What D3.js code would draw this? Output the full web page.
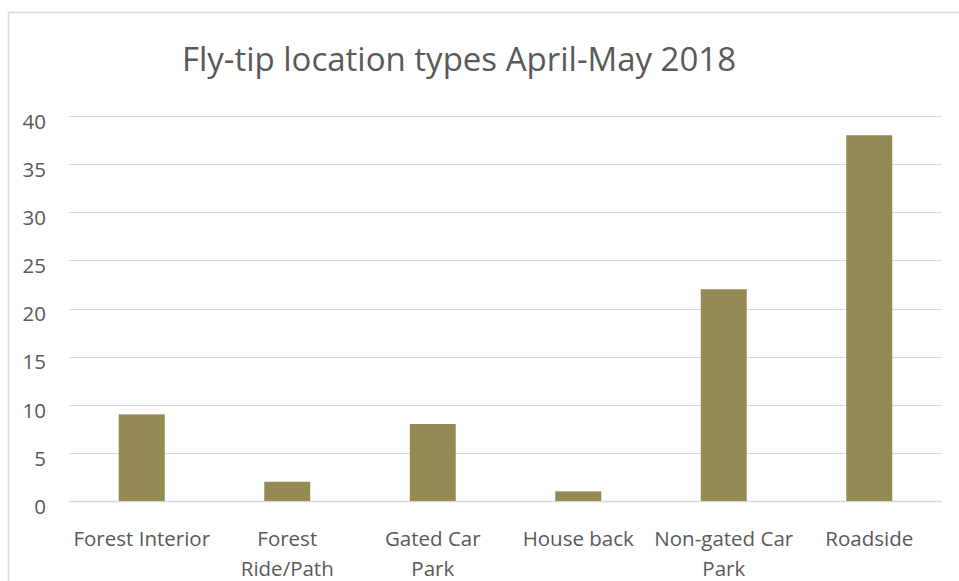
<!DOCTYPE html>
<html>
<head>
<meta charset="utf-8">
<script src="https://cdn.jsdelivr.net/npm/d3@7"></script>
<style>
  body { margin: 0; background: #fff; }
  text { font-family: "Open Sans", sans-serif; fill: #595959; }
</style>
</head>
<body>
<div id="chart"></div>
<script>
// Chart data
const categories = ["Forest Interior", "Forest\nRide/Path", "Gated Car\nPark", "House back", "Non-gated Car\nPark", "Roadside"];
const counts = [9, 2, 8, 1, 22, 38];
const yTicks = [0, 5, 10, 15, 20, 25, 30, 35, 40];
const title = "Fly-tip location types April-May 2018";

const width = 959, height = 581;
const plot = { left: 69, right: 942, top: 116, bottom: 501 };

const svg = d3.select("#chart")
    .append("svg")
    .attr("width", width)
    .attr("height", height);

// Outer chart border (right and bottom fall outside the picture)
svg.append("rect")
    .attr("x", 8.5)
    .attr("y", 12.5)
    .attr("width", 1000)
    .attr("height", 700)
    .style("fill", "none")
    .style("stroke", "#d9d9d9")
    .style("stroke-width", 1.5);

const x = d3.scaleBand()
    .domain(categories)
    .range([plot.left, plot.right])
    .paddingInner(0.684)
    .paddingOuter(0.342);

const y = d3.scaleLinear()
    .domain([0, 40])
    .range([plot.bottom, plot.top]);

// Gridlines
svg.append("g")
    .selectAll("line")
    .data(yTicks)
    .enter()
    .append("line")
    .attr("x1", plot.left)
    .attr("x2", plot.right)
    .attr("y1", d => Math.round(y(d)) + 0.5)
    .attr("y2", d => Math.round(y(d)) + 0.5)
    .style("stroke", "#d9d9d9")
    .style("stroke-width", d => d === 0 ? 1.5 : 1);

// Y axis labels
const yAxis = svg.append("g")
    .attr("transform", `translate(${plot.left - 23}, 0)`)
    .call(d3.axisLeft(y).tickValues(yTicks).tickSize(0).tickPadding(0));
yAxis.select(".domain").remove();
yAxis.selectAll("text")
    .attr("dy", "0.6em")
    .style("font-size", "20.5px")
    .style("fill", "#595959");

// Bars
svg.append("g")
    .selectAll("rect")
    .data(categories)
    .enter()
    .append("rect")
    .attr("x", d => x(d))
    .attr("width", x.bandwidth())
    .attr("y", (d, i) => y(counts[i]))
    .attr("height", (d, i) => y(0) - y(counts[i]))
    .style("fill", "#948a54");

// X axis labels (wrapped)
const xAxis = svg.append("g")
    .attr("transform", `translate(0, ${plot.bottom})`)
    .call(d3.axisBottom(x).tickSize(0).tickPadding(0));
xAxis.select(".domain").remove();
xAxis.selectAll("text")
    .text(null)
    .attr("y", 0)
    .attr("dy", null)
    .style("font-size", "20.5px")
    .style("fill", "#595959")
    .each(function (d) {
        const lines = d.split("\n");
        d3.select(this).selectAll("tspan")
            .data(lines)
            .enter()
            .append("tspan")
            .attr("x", 0)
            .attr("y", (l, i) => 45 + i * 30)
            .text(l => l);
    });

// Title
svg.append("text")
    .attr("x", 459)
    .attr("y", 71)
    .attr("text-anchor", "middle")
    .style("font-size", "33px")
    .text(title);
</script>
</body>
</html>
